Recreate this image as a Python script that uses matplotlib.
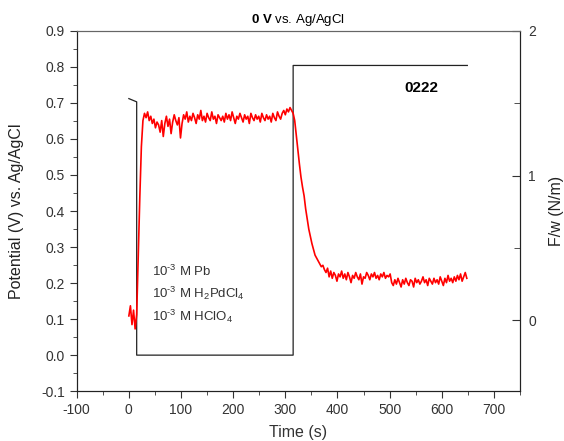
import numpy as np
import matplotlib.pyplot as plt
from matplotlib.ticker import MultipleLocator

plt.rcParams['font.family'] = ['Liberation Sans', 'DejaVu Sans']
plt.rcParams['mathtext.fontset'] = 'custom'
plt.rcParams['mathtext.rm'] = 'Liberation Sans'
plt.rcParams['mathtext.bf'] = 'Liberation Sans:bold'
plt.rcParams['mathtext.it'] = 'Liberation Sans:italic'
plt.rcParams['axes.unicode_minus'] = False

# ─── potential step (left axis, V vs. Ag/AgCl) ────────────────────────────────
pot_t = [0, 15, 15, 315, 315, 649]
pot_v = [0.712, 0.703, 0.0, 0.0, 0.804, 0.804]

# ─── surface stress F/w (right axis, N/m), sampled every 3 s ──────────────────
fw_t = np.arange(0, 649, 3)
fw = [
    0.03, 0.10, -0.03, 0.07, -0.06, 0.04,
    0.45, 0.85, 1.20, 1.38,
    1.43, 1.40, 1.44, 1.38, 1.41, 1.36, 1.39, 1.33, 1.37, 1.35,
    1.30, 1.38, 1.27, 1.36, 1.41, 1.34, 1.39, 1.29, 1.37, 1.42,
    1.38, 1.35, 1.40, 1.26, 1.36, 1.42, 1.39, 1.44, 1.37, 1.41,
    1.38, 1.43, 1.40, 1.36, 1.42, 1.39, 1.45, 1.38, 1.41, 1.37,
    1.43, 1.40, 1.38, 1.44, 1.39, 1.41, 1.36, 1.42, 1.40, 1.38,
    1.41, 1.37, 1.43, 1.39, 1.42, 1.38, 1.44, 1.40, 1.36, 1.41,
    1.39, 1.43, 1.40, 1.37, 1.42, 1.39, 1.41, 1.36, 1.43, 1.40,
    1.38, 1.42, 1.39, 1.41, 1.37, 1.43, 1.40, 1.38, 1.42, 1.39,
    1.41, 1.37, 1.43, 1.40, 1.38, 1.44, 1.41, 1.39, 1.43, 1.45,
    1.42, 1.46, 1.44, 1.47, 1.45,
    1.43, 1.38, 1.28, 1.18, 1.08, 0.99, 0.92, 0.86, 0.77, 0.70,
    0.63, 0.58, 0.53, 0.49, 0.45, 0.43, 0.41, 0.39, 0.37, 0.38,
    0.35, 0.33,
    0.36, 0.30, 0.34, 0.29, 0.33, 0.31, 0.27, 0.32, 0.30, 0.34,
    0.29, 0.32, 0.28, 0.33, 0.30, 0.26, 0.31, 0.29, 0.33, 0.30,
    0.28, 0.32, 0.25, 0.30, 0.29, 0.33, 0.31, 0.28, 0.32, 0.30,
    0.33, 0.29, 0.31, 0.28, 0.32, 0.30, 0.33, 0.29, 0.31, 0.30,
    0.32, 0.26, 0.24, 0.28, 0.25, 0.29, 0.26, 0.23, 0.28, 0.25,
    0.29, 0.26, 0.24, 0.28, 0.27, 0.23, 0.29, 0.26, 0.28, 0.25,
    0.27, 0.30, 0.26, 0.28, 0.24, 0.29, 0.27, 0.25, 0.29, 0.26,
    0.28, 0.25, 0.30, 0.27, 0.24, 0.29, 0.26, 0.31, 0.27, 0.29,
    0.26, 0.30, 0.27, 0.31, 0.28, 0.32, 0.27, 0.30, 0.33, 0.29,
]

conditions = ['10$^{\u2010 3}$ M Pb',
              '10$^{\u2010 3}$ M H$_2$PdCl$_4$',
              '10$^{\u2010 3}$ M HClO$_4$']

fig = plt.figure(figsize=(5.64, 4.41), dpi=100)
ax = fig.add_axes([0.136, 0.113, 0.786, 0.817])
ax2 = ax.twinx()

ax.plot(pot_t, pot_v, color='#222222', linewidth=0.9, zorder=3)
ax2.plot(fw_t, fw, color='#ff0000', linewidth=1.2)

ax.set_xlim(-100, 750)
ax.set_ylim(-0.1, 0.9)
ax2.set_ylim(-0.49, 2.0)

ax.xaxis.set_major_locator(MultipleLocator(100))
ax.xaxis.set_minor_locator(MultipleLocator(50))
ax.yaxis.set_major_locator(MultipleLocator(0.1))
ax.yaxis.set_minor_locator(MultipleLocator(0.05))
ax.yaxis.set_major_formatter(lambda v, p: f'{v:.1f}')
ax2.yaxis.set_major_locator(MultipleLocator(1))
ax2.yaxis.set_minor_locator(MultipleLocator(0.5))

ax.tick_params(which='both', direction='out', colors='#333333', labelsize=10)
ax.tick_params(which='major', length=5)
ax.tick_params(which='minor', length=3)
ax2.tick_params(which='both', direction='in', colors='#333333', labelsize=10)
ax2.tick_params(which='major', length=6, pad=6)
ax2.tick_params(which='minor', length=4)

for a in (ax, ax2):
    a.spines['top'].set_color('#666666')
    a.spines['left'].set_color('#222222')
    a.spines['bottom'].set_color('#222222')
    a.spines['right'].set_color('#222222')

ax.set_xlabel('Time (s)', fontsize=11.5, color='#333333', labelpad=6)
ax.set_ylabel('Potential (V) vs. Ag/AgCl', fontsize=11.5, color='#222222',
              labelpad=12)
ax2.set_ylabel('F/w (N/m)', fontsize=11.5, color='#222222', labelpad=9)
ax.set_title(r'$\bf{0\ V}$ vs. Ag/AgCl', fontsize=9.5, pad=6)

ax.text(561, 0.742, '0222', fontsize=11, fontweight='bold',
        ha='center', va='center')
for i, s in enumerate(conditions):
    ax.text(45, 0.233 - i * 0.062, s, fontsize=9.5, color='#333333',
            ha='left', va='center')

plt.savefig('out.png', dpi=100)
